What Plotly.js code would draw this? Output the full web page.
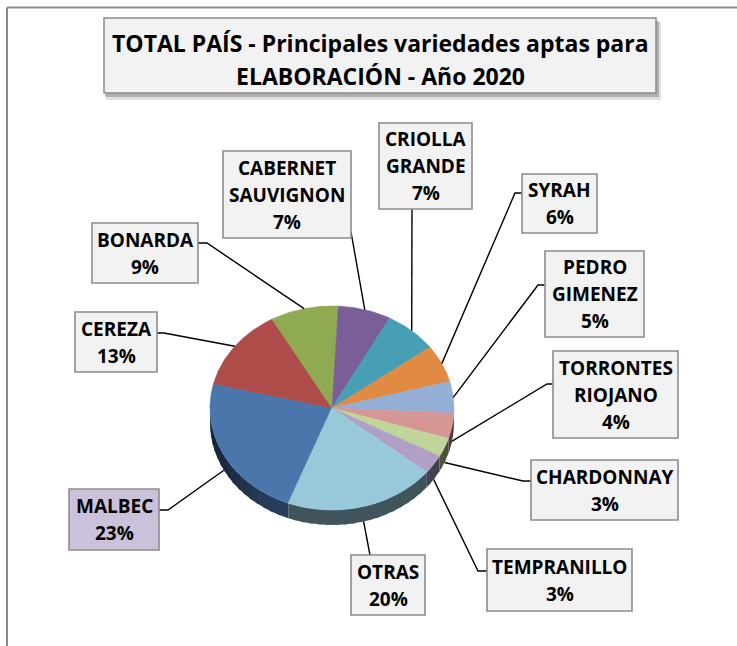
<!DOCTYPE html>
<html><head><meta charset="utf-8">
<script src="https://cdn.plot.ly/plotly-3.0.1.min.js"></script>
<style>html,body{margin:0;padding:0;background:#fff}</style>
</head><body><div id="chart" style="width:737px;height:646px"></div>
<script>
// ---- data ----
const varieties = ['MALBEC','CEREZA','BONARDA','CABERNET SAUVIGNON','CRIOLLA GRANDE','SYRAH','PEDRO GIMENEZ','TORRONTES RIOJANO','CHARDONNAY','TEMPRANILLO','OTRAS'];
const shares = [23,13,9,7,7,6,5,4,3,3,20];
const titleLines = ['TOTAL PAÍS - Principales variedades aptas para','ELABORACIÓN - Año 2020'];

// ---- styles ----
const sliceColors = ['#4A76AC','#AD4C49','#8FAA51','#7A5E98','#479FB6','#E08A43','#95AED6','#D69695','#C0D59A','#B0A0C6','#98C9DA'];
const boxFills = ['#CCC1DA','#F2F2F2','#F2F2F2','#F2F2F2','#F2F2F2','#F2F2F2','#F2F2F2','#F2F2F2','#F2F2F2','#F2F2F2','#F2F2F2'];
// label layout: box [x0,y0,x1,y1], leader anchor on box, optional elbow
const labelBoxes = [[69,489,159,550],[75,312,157,372],[92,223,198,283],[223,151,351,238],[379,123,472,209],[522,174,597,233],[545,251,644,337],[553,351,678,438],[531,460,678,520],[487,549,632,611],[351,555,425,615]];
const leaderAnchors = [[159,510],[157,333],[198,243],[351,232],[412,209],[522,193],[545,285],[553,384],[531,481],[487,571],[370,555]];
const leaderElbows = [[168,510],[164,333],[207,243],null,null,[515,193],[538,285],[547,384],[523,481],[478,571],null];

// pie geometry (tilted 3D pie drawn as ellipse)
const CX = 332, CY = 408, RX = 122, RY = 102, DEPTH = 15, START = 201;
const FONT = '"Open Sans", sans-serif';

function pt(deg, dy) {
  const r = deg * Math.PI / 180;
  return [CX + RX * Math.sin(r), CY - RY * Math.cos(r) + (dy || 0)];
}
function shade(hex, f) {
  const n = parseInt(hex.slice(1), 16);
  const c = [(n >> 16) & 255, (n >> 8) & 255, n & 255].map(v => Math.round(v * f));
  return 'rgb(' + c.join(',') + ')';
}

const total = shares.reduce((a, b) => a + b, 0);
const traces = [];
const sideTraces = [];
let acc = START;
const mids = [];
shares.forEach((v, i) => {
  const a = acc, b = acc + v / total * 360;
  acc = b;
  mids.push((a + b) / 2);
  // top face
  const xs = [CX], ys = [CY];
  const steps = Math.max(2, Math.ceil(b - a));
  for (let k = 0; k <= steps; k++) {
    const p = pt(a + (b - a) * k / steps);
    xs.push(p[0]); ys.push(p[1]);
  }
  xs.push(CX); ys.push(CY);
  traces.push({type: 'scatter', mode: 'lines', x: xs, y: ys, fill: 'toself',
    fillcolor: sliceColors[i], line: {color: sliceColors[i], width: 0.6},
    hoverinfo: 'skip', showlegend: false});
  // side face (front half only: 90..270 deg)
  for (const off of [0, 360]) {
    const s = Math.max(a, 90 + off), e = Math.min(b, 270 + off);
    if (e <= s) continue;
    const chunk = 4;
    for (let c0 = s; c0 < e - 1e-6; c0 += chunk) {
      const c1 = Math.min(e, c0 + chunk + 1.5);
      const sx = [], sy = [];
      const st = Math.max(1, Math.ceil(c1 - c0));
      for (let k = 0; k <= st; k++) { const p = pt(c0 + (c1 - c0) * k / st); sx.push(p[0]); sy.push(p[1]); }
      for (let k = st; k >= 0; k--) { const p = pt(c0 + (c1 - c0) * k / st, DEPTH); sx.push(p[0]); sy.push(p[1]); }
      const m = c0 + chunk / 2 - off;
      let f = 0.42 - 0.14 * Math.min(1, Math.max(0, (m - 215) / 55)) - 0.06 * Math.min(1, Math.max(0, (140 - m) / 50));
      if (i === 0) f += 0.12 * Math.max(0, 1 - (m - 201) / 40);
      const col = shade(sliceColors[i], f);
      sideTraces.push({type: 'scatter', mode: 'lines', x: sx, y: sy, fill: 'toself',
        fillcolor: col, line: {width: 0}, hoverinfo: 'skip', showlegend: false});
    }
  }
});

const shapes = [];
const annotations = [];
// frame
shapes.push({type: 'line', xref: 'x', yref: 'y', x0: 7, y0: 7.5, x1: 737, y1: 7.5, line: {color: '#8C8C8C', width: 2}});
shapes.push({type: 'line', xref: 'x', yref: 'y', x0: 7, y0: 7.5, x1: 7, y1: 646, line: {color: '#8C8C8C', width: 2}});
// title box with shadow
shapes.push({type: 'rect', xref: 'x', yref: 'y', x0: 106, y0: 22, x1: 661, y1: 100, fillcolor: 'rgba(0,0,0,0.12)', line: {width: 0}});
shapes.push({type: 'rect', xref: 'x', yref: 'y', x0: 105, y0: 21, x1: 659, y1: 97, fillcolor: 'rgba(0,0,0,0.22)', line: {width: 0}});
shapes.push({type: 'rect', xref: 'x', yref: 'y', x0: 104, y0: 18, x1: 656, y1: 93, fillcolor: '#F2F2F2', line: {color: '#8C8C8C', width: 1.5}});
titleLines.forEach((t, k) => {
  annotations.push({xref: 'x', yref: 'y', x: 380, y: 43 + k * 33, text: t, showarrow: false,
    xanchor: 'center', yanchor: 'middle', font: {family: FONT, size: 23, color: '#000', weight: 'bold'}});
});

// leaders and label boxes
varieties.forEach((name, i) => {
  let m = mids[i] % 360;
  const front = m > 90 && m < 270;
  const p = pt(mids[i], front ? DEPTH : 0);
  const an = leaderAnchors[i], el = leaderElbows[i];
  let path = 'M ' + an[0] + ',' + an[1];
  if (el) path += ' L ' + el[0] + ',' + el[1];
  path += ' L ' + p[0].toFixed(1) + ',' + p[1].toFixed(1);
  shapes.push({type: 'path', xref: 'x', yref: 'y', path: path, line: {color: '#000', width: 1.4}});
  const bx = labelBoxes[i];
  shapes.push({type: 'rect', xref: 'x', yref: 'y', x0: bx[0], y0: bx[1], x1: bx[2], y1: bx[3],
    fillcolor: boxFills[i], line: {color: '#8C8C8C', width: 1.6}});
  const lines = name.split(' ').concat([shares[i] + '%']);
  const ccx = (bx[0] + bx[2]) / 2, ccy = (bx[1] + bx[3]) / 2;
  lines.forEach((t, k) => {
    annotations.push({xref: 'x', yref: 'y', x: ccx, y: ccy + (k - (lines.length - 1) / 2) * 27, text: t,
      showarrow: false, xanchor: 'center', yanchor: 'middle',
      font: {family: FONT, size: 19, color: '#000', weight: 'bold'}});
  });
});

const layout = {
  width: 737, height: 646, autosize: false,
  margin: {l: 0, r: 0, t: 0, b: 0, pad: 0},
  paper_bgcolor: '#fff', plot_bgcolor: '#fff',
  xaxis: {range: [0, 737], visible: false, fixedrange: true, domain: [0, 1]},
  yaxis: {range: [646, 0], visible: false, fixedrange: true, domain: [0, 1]},
  shapes: shapes, annotations: annotations, showlegend: false, hovermode: false
};
Plotly.newPlot('chart', sideTraces.concat(traces), layout, {displayModeBar: false, staticPlot: true});
</script></body></html>
